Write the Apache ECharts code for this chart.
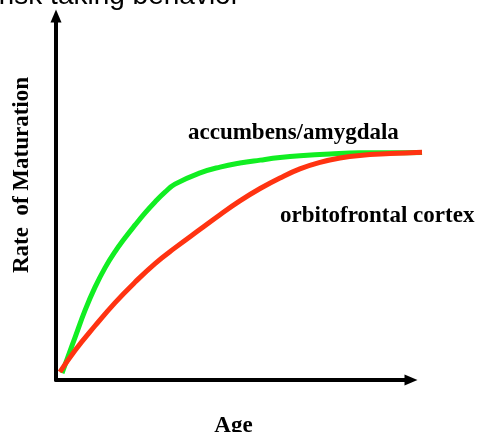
<!DOCTYPE html>
<html>
<head>
<meta charset="utf-8">
<script src="https://cdn.jsdelivr.net/npm/echarts@6/dist/echarts.min.js"></script>
<style>
  html, body { margin: 0; padding: 0; background: #fff; }
  #chart { width: 485px; height: 432px; }
</style>
</head>
<body>
<div id="chart"></div>
<script>
// curve points [age, maturation] (0-100 scale, curves run a bit past the arrow)
var ageGreen = [1.7, 5.4, 8.2, 11.0, 13.8, 16.6, 19.4, 22.3, 25.1, 27.9, 30.7, 33.5, 40.6, 46.2, 51.8, 57.5, 63.1, 68.7, 77.2, 85.6, 94.1, 103.1];
var matGreen = [1.9, 11.8, 19.2, 25.5, 30.8, 35.2, 39.0, 42.6, 45.9, 48.9, 51.6, 53.8, 56.9, 58.5, 59.6, 60.4, 61.1, 61.6, 62.1, 62.4, 62.4, 62.5];
var ageRed = [1.1, 5.4, 11.0, 16.6, 22.3, 27.9, 33.5, 40.6, 46.2, 51.8, 57.5, 63.1, 68.7, 74.4, 80.0, 85.6, 94.1, 103.1];
var matRed = [2.2, 8.2, 14.9, 21.2, 26.9, 32.0, 36.3, 41.4, 45.4, 49.2, 52.6, 55.5, 58.0, 59.8, 61.0, 61.7, 62.2, 62.6];
var seriesNames = ["accumbens/amygdala", "orbitofrontal cortex"];

function pairs(xs, ys) {
  return xs.map(function (x, i) { return [x, ys[i]]; });
}

var chart = echarts.init(document.getElementById("chart"));
var serif = '"Liberation Serif", "Times New Roman", serif';
var hidden = { axisLine: { show: false }, axisTick: { show: false }, axisLabel: { show: false }, splitLine: { show: false } };
var blackLine = { lineStyle: { color: "#000", width: 4 }, symbol: ["none", "triangle"], symbolSize: [11, 13] };

var option = {
  animation: false,
  grid: [
    // grid 0 holds the curves (wider so the ends are not clipped)
    { left: 56, right: 59.8, top: 16, bottom: 52, containLabel: false, outerBoundsMode: "none" },
    // grid 1 draws the arrow axes
    { left: 56, right: 74, top: 16, bottom: 52, containLabel: false, outerBoundsMode: "none" }
  ],
  xAxis: [
    Object.assign({ type: "value", gridIndex: 0, min: 0, max: 104 }, hidden),
    {
      type: "value", gridIndex: 1, min: 0, max: 100,
      name: "Age", nameLocation: "middle", nameGap: 35,
      nameTextStyle: { fontFamily: serif, fontWeight: "bold", fontSize: 23, color: "#000" },
      axisLine: blackLine, axisTick: { show: false }, axisLabel: { show: false }, splitLine: { show: false }
    }
  ],
  yAxis: [
    Object.assign({ type: "value", gridIndex: 0, min: 0, max: 100 }, hidden),
    {
      type: "value", gridIndex: 1, min: 0, max: 100,
      axisLine: blackLine, axisTick: { show: false }, axisLabel: { show: false }, splitLine: { show: false }
    }
  ],
  series: [
    {
      name: seriesNames[0],
      type: "line",
      xAxisIndex: 0, yAxisIndex: 0,
      data: pairs(ageGreen, matGreen),
      smooth: 0.45,
      showSymbol: false,
      z: 3,
      lineStyle: { color: "#11ee22", width: 5 }
    },
    {
      name: seriesNames[1],
      type: "line",
      xAxisIndex: 0, yAxisIndex: 0,
      data: pairs(ageRed, matRed),
      smooth: 0.45,
      showSymbol: false,
      z: 4,
      lineStyle: { color: "#ff3311", width: 5 }
    }
  ],
  graphic: [
    {
      type: "text",
      x: 240, y: -4,
      style: { text: "risk taking behavior", font: '28px "Liberation Sans", Arial, sans-serif', fill: "#000", align: "right", verticalAlign: "middle" }
    },
    {
      type: "text",
      x: 22, y: 175,
      rotation: Math.PI / 2,
      style: { text: "Rate  of Maturation", font: 'bold 23px ' + serif, fill: "#000", align: "center", verticalAlign: "middle" }
    },
    {
      type: "text",
      x: 188, y: 133,
      style: { text: seriesNames[0], font: 'bold 23px ' + serif, fill: "#000", align: "left", verticalAlign: "middle" }
    },
    {
      type: "text",
      x: 280, y: 216,
      style: { text: seriesNames[1], font: 'bold 23px ' + serif, fill: "#000", align: "left", verticalAlign: "middle" }
    }
  ]
};

chart.setOption(option);
window.onresize = chart.resize;
</script>
</body>
</html>
